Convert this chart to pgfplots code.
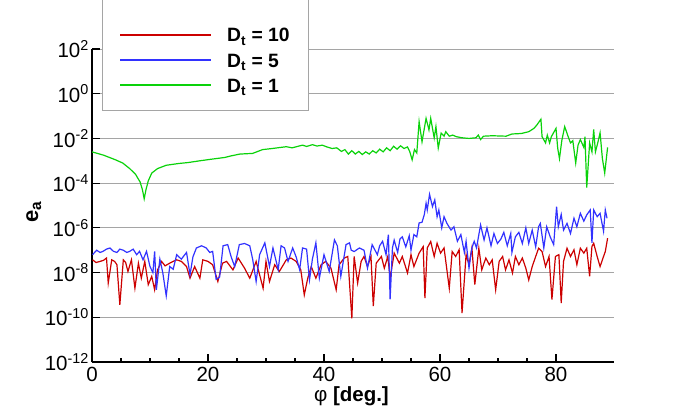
\documentclass[border=0pt]{standalone}
\usepackage{fontspec}
\setmainfont{Liberation Sans}
\usepackage{pgfplots}
\pgfplotsset{compat=1.18}
\definecolor{cred}{RGB}{204,0,0}
\definecolor{cblue}{RGB}{50,50,255}
\definecolor{cgreen}{RGB}{10,210,10}
\definecolor{cgrid}{RGB}{165,165,165}
\begin{document}
\begin{tikzpicture}
\useasboundingbox (0,0) rectangle (699pt,408pt);
\begin{axis}[
  at={(92pt,46pt)}, anchor=south west,
  scale only axis, width=522pt, height=313pt,
  xmin=0, xmax=90, ymin=1e-12, ymax=1e2, ymode=log,
  axis x line*=bottom, axis y line*=left,
  axis line style={line width=1.5pt,-},
  tick align=inside, xtick pos=bottom, ytick pos=left,
  major tick length=8pt, minor tick length=4pt,
  tick style={line width=1.2pt, black},
  xtick={0,20,40,60,80}, xticklabels={0,20,40,60,80},
  minor x tick num=3,
  ytick={1e-12,1e-10,1e-8,1e-6,1e-4,1e-2,1,1e2},
  yticklabels={10\textsuperscript{-12},10\textsuperscript{-10},10\textsuperscript{-8},10\textsuperscript{-6},10\textsuperscript{-4},10\textsuperscript{-2},10\textsuperscript{0},10\textsuperscript{2}},
  yminorticks=false,
  ymajorgrids, major grid style={cgrid, line width=1pt},
  tick label style={font=\fontsize{20.5}{23}\selectfont, inner sep=0pt},
  xticklabel style={anchor=north, yshift=-5pt},
  yticklabel style={anchor=east, xshift=-3pt},
  xlabel={φ {\bfseries [deg.]}},
  ylabel={\bfseries e\textsubscript{\bfseries a}},
  every axis x label/.style={at={(axis description cs:0.497,0)}, anchor=base, yshift=-39pt, inner sep=0pt, font=\fontsize{20.5}{23}\selectfont},
  every axis y label/.style={at={(axis description cs:-0.1034,0.479)}, rotate=90, anchor=base, font=\fontsize{22}{25}\selectfont},
  clip=true,
]
\addplot[cred, line width=1.2pt] coordinates {
(0.1,3.72e-8) (0.7,2.82e-8) (1.4,3.16e-8) (2.0,3.55e-8) (2.5,4.47e-8) (2.8,3.39e-9) (3.4,3.72e-8) (3.9,3.16e-8) (4.3,2.24e-8) (4.8,3.63e-10)
(5.4,3.72e-8) (5.8,2.82e-8) (6.2,1.12e-8) (6.8,3.72e-8) (7.4,2.0e-9) (8.0,2.63e-8) (8.5,5.62e-9) (9.1,3.16e-8) (9.7,2.88e-9) (10.3,6.76e-9)
(10.8,1.7e-9) (11.3,1.32e-8) (12.0,3.16e-8) (12.6,2.0e-8) (13.4,2.63e-8) (14.0,3.16e-8) (14.6,3.72e-8) (15.4,3.16e-8) (16.3,1.86e-8) (16.9,5.62e-9)
(17.7,1.86e-8) (18.6,5.62e-9) (19.1,3.72e-8) (20.0,3.16e-8) (20.8,2.24e-8) (21.7,3.98e-9) (22.5,2.63e-8) (23.2,3.16e-8) (24.3,1.32e-8) (25.2,4.47e-8)
(26.3,1.58e-8) (27.2,5.62e-9) (28.3,3.16e-8) (29.5,2.0e-9) (30.0,3.16e-8) (30.6,3.98e-9) (31.5,2.24e-8) (32.3,1.12e-8) (33.5,3.72e-8) (34.3,4.47e-8)
(35.2,3.16e-8) (36.0,1.32e-8) (36.6,1e-9) (37.2,5.62e-9) (37.8,1.86e-8) (38.6,5.62e-9) (39.5,2.24e-8) (40.3,3.16e-8) (41.2,1.58e-8) (42.1,1.7e-9)
(42.6,2.24e-8) (43.5,4.47e-8) (44.1,5.25e-8) (44.8,8.91e-11) (45.2,5.25e-8) (45.8,3.39e-9) (46.4,3.16e-8) (46.9,5.25e-8) (47.5,1.86e-8) (48.1,5.25e-8)
(48.5,3.16e-10) (49.0,2.63e-8) (49.9,5.25e-8) (50.4,1.58e-8) (51.0,5.25e-8) (51.4,5.62e-9) (52.1,7.41e-8) (53.0,2.63e-8) (53.5,5.25e-8) (54.4,9.55e-9)
(55.0,6.31e-8) (55.5,1.86e-8) (56.4,7.41e-8) (57.1,1.45e-7) (57.4,7.24e-10) (57.8,1.26e-7) (58.4,2.45e-7) (59.0,5.25e-8) (59.5,2.04e-7) (60.1,7.41e-8)
(60.7,1.26e-7) (61.6,2.0e-9) (62.1,8.71e-8) (62.7,5.25e-8) (63.3,1.05e-7) (63.8,1.55e-10) (64.5,6.31e-8) (65.0,2.24e-8) (65.5,1.26e-7) (66.0,2.88e-9)
(66.7,1.23e-7) (67.2,1.32e-8) (67.9,4.47e-8) (68.5,2.24e-8) (69.0,3.72e-8) (69.6,1.7e-9) (70.2,3.16e-8) (70.8,5.25e-8) (71.3,1.32e-8) (71.9,3.72e-8)
(72.5,9.55e-9) (73.0,5.25e-8) (73.6,2.24e-8) (74.2,4.47e-8) (74.8,1.58e-8) (75.3,4.68e-9) (75.9,1.86e-8) (76.5,5.25e-8) (77.0,1.23e-7) (77.6,8.71e-8)
(78.2,1.86e-8) (78.8,5.25e-8) (79.3,6.17e-10) (79.9,5.25e-8) (80.5,6.31e-8) (80.9,4.37e-10) (81.3,3.16e-8) (81.9,1.23e-7) (82.5,5.25e-8) (83.1,1.05e-7)
(83.6,2.24e-8) (84.2,1.23e-7) (84.8,7.41e-8) (85.3,1.23e-7) (85.8,6.76e-9) (86.2,1.48e-7) (86.5,2.04e-7) (87.1,5.25e-8) (87.6,1.86e-8) (88.2,5.25e-8)
(88.5,8.71e-8) (88.9,3.47e-7)
};
\addplot[cblue, line width=1.2pt] coordinates {
(0.1,6.31e-8) (0.8,1e-7) (1.4,7.94e-8) (1.9,8.91e-8) (2.5,1.12e-7) (3.1,1.26e-7) (3.7,8.91e-8) (4.3,7.94e-8) (4.8,1.12e-7) (5.4,1e-7)
(6.0,7.94e-8) (6.5,8.91e-8) (7.1,1.12e-7) (7.7,6.31e-8) (8.2,8.91e-8) (8.8,3.72e-8) (9.4,8.91e-8) (10,1.86e-8) (10.5,1e-8) (10.8,8.91e-8)
(11.1,1.7e-9) (11.7,3.98e-8) (12.2,1e-8) (12.8,9.12e-10) (13.4,1.86e-8) (14.0,1.41e-8) (14.6,6.31e-8) (15.4,3.98e-8) (16.3,7.94e-8) (16.9,7.94e-9)
(17.4,5.01e-8) (18.0,1.26e-7) (18.9,1.58e-7) (19.7,1.26e-7) (20.3,7.94e-8) (20.8,8.91e-8) (21.4,5.01e-9) (22.0,6.31e-9) (22.6,1.58e-7) (23.4,1.78e-7)
(24.0,5.01e-8) (24.6,1.86e-8) (25.4,1.78e-7) (26.3,2.0e-7) (27.2,1.58e-7) (27.7,3.98e-8) (28.3,3.98e-9) (28.9,6.31e-8) (29.8,2.14e-7) (30.6,1.86e-8)
(31.2,1.26e-7) (32.1,1.35e-8) (32.6,1.58e-7) (33.2,1.26e-7) (33.8,3.16e-8) (34.6,1.26e-7) (35.2,5.01e-8) (35.8,1.35e-8) (36.3,1.26e-7) (37.0,1.12e-7)
(37.5,4.68e-9) (38.0,3.98e-8) (38.6,2.14e-7) (39.2,5.62e-9) (40.0,6.31e-8) (40.9,1.12e-8) (41.8,2.88e-7) (42.3,1.58e-7) (42.9,6.76e-9) (43.8,1.78e-7)
(44.4,2.14e-7) (44.7,1e-7) (45.2,8.71e-8) (46.1,1.26e-7) (46.9,1e-7) (47.5,1.58e-8) (48.3,1.78e-7) (49.2,6.31e-8) (49.6,1.58e-7) (50.1,2.51e-7)
(50.7,6.31e-8) (51.1,5.01e-7) (51.4,6.31e-10) (51.8,1.26e-7) (52.1,2.82e-7) (52.7,7.94e-8) (53.1,3.16e-7) (53.5,3.98e-7) (54.1,1.41e-7) (54.7,4.47e-7)
(55.0,1e-7) (55.5,5.01e-7) (56.0,3.98e-7) (56.4,1.66e-6) (56.9,1.78e-6) (57.3,3.98e-6) (57.6,1.26e-5) (57.8,6.31e-6) (58.2,3.16e-5) (58.7,8.91e-6)
(59.1,1.78e-5) (59.5,3.16e-6) (59.8,6.31e-6) (60.3,1e-6) (60.7,3.16e-6) (61.2,1.58e-6) (61.9,7.94e-7) (62.4,1.12e-6) (63.0,2.51e-7) (63.6,5.01e-7)
(64.2,7.94e-8) (64.5,2.51e-7) (65.0,1.58e-8) (65.5,1.26e-7) (65.9,2.51e-7) (66.3,1.26e-7) (66.7,5.01e-7) (67.0,1.35e-6) (67.6,2.88e-7) (68.1,1e-6)
(68.8,1.58e-7) (69.3,5.62e-7) (69.9,2.0e-7) (70.5,3.16e-7) (71.0,6.31e-7) (71.6,1.58e-7) (72.2,5.62e-7) (72.4,7.94e-8) (73.0,3.98e-7) (73.6,6.31e-7)
(74.2,2.0e-7) (74.8,1e-6) (75.3,2.0e-7) (75.9,7.94e-7) (76.5,1.41e-7) (77.0,1.12e-6) (77.3,1.58e-6) (77.9,1.26e-7) (78.4,1.12e-6) (79.0,3.98e-7)
(79.6,1.78e-7) (80.1,8.91e-6) (80.4,1.12e-6) (80.9,3.98e-6) (81.3,7.94e-7) (81.9,1.58e-6) (82.5,5.62e-7) (83.1,2.69e-6) (83.6,1.12e-6) (84.2,4.47e-6)
(84.8,2.0e-6) (85.3,3.8e-6) (85.9,6.31e-6) (86.2,2.14e-7) (86.5,6.31e-6) (87.1,3.16e-6) (87.6,4.47e-6) (88.2,7.08e-7) (88.5,6.31e-6) (88.8,2.69e-6)
};
\addplot[cgreen, line width=1.2pt] coordinates {
(0,2.51e-3) (2,1.78e-3) (4,1.12e-3) (5.3,7.94e-4) (6.5,4.47e-4) (7.5,2.51e-4) (8.3,1.12e-4) (8.7,5.01e-5) (9.0,2.0e-5) (9.3,5.01e-5)
(9.7,1.26e-4) (10.3,2.82e-4) (11.3,4.47e-4) (12.8,6.31e-4) (15,7.6e-4) (16.5,8.3e-4) (18.6,1e-3) (20.5,1.17e-3) (22.9,1.41e-3) (24,1.66e-3)
(25.5,2.0e-3) (27.7,2.14e-3) (29.4,3.16e-3) (31.1,3.55e-3) (33.5,4.27e-3) (34.5,3.8e-3) (36.3,5.01e-3) (37,4.37e-3) (38,5.25e-3) (38.8,4.57e-3)
(39.7,5.01e-3) (40.5,4.17e-3) (41.4,3.55e-3) (42.2,3.8e-3) (43.0,2.63e-3) (43.6,3.16e-3) (44.2,2.0e-3) (44.8,2.82e-3) (45.4,2.0e-3) (46.0,2.63e-3)
(46.6,1.91e-3) (47.2,2.51e-3) (47.8,2.0e-3) (48.4,2.82e-3) (49,2.24e-3) (49.6,3.31e-3) (50.2,2.51e-3) (50.8,3.8e-3) (51.4,2.82e-3) (52.0,4.47e-3)
(52.6,3.31e-3) (53.2,4.68e-3) (53.8,3.55e-3) (54.4,4.17e-3) (54.8,2.51e-3) (55.2,1.1e-3) (55.6,3.16e-3) (56.0,2.24e-3) (56.4,5.62e-2) (56.9,7.08e-3)
(57.6,7.94e-2) (58.1,2.4e-2) (58.4,7.94e-2) (59.0,1.05e-2) (59.3,3.39e-2) (59.7,3.72e-3) (60.2,1.74e-2) (60.7,1.26e-2) (61.0,2.0e-2) (61.6,1.26e-2)
(62.2,1.41e-2) (62.8,1.2e-2) (63.8,1.07e-2) (65,1.0e-2) (66.2,1.07e-2) (66.6,1.41e-2) (67,8.91e-3) (67.5,1.26e-2) (69,1.32e-2) (71.4,1.26e-2)
(72.4,1.58e-2) (74,1.66e-2) (75.3,2.0e-2) (76.2,2.82e-2) (76.7,3.98e-2) (77.4,7.24e-2) (77.6,1.2e-2) (78.2,6.31e-3) (78.5,1.41e-2) (78.9,6.31e-3)
(79.2,1.2e-2) (80.0,2.82e-2) (80.3,3.55e-3) (80.6,1.26e-3) (81.0,7.94e-3) (81.5,3.39e-2) (82.1,1.2e-2) (82.5,6.31e-3) (82.9,7.94e-3) (83.4,7.94e-4)
(83.8,5.01e-3) (84.2,8.91e-3) (84.8,3.98e-3) (85.0,1.2e-2) (85.3,6.31e-5) (85.8,6.31e-3) (86.2,2.51e-3) (86.5,2.51e-2) (86.8,2.51e-3) (87.2,6.31e-3)
(87.6,1.78e-2) (88.0,1.26e-3) (88.4,2.82e-4) (88.9,3.98e-3)
};
\end{axis}
% legend
\draw[cgrid, line width=1pt, fill=white] (102pt,298pt) rectangle (308pt,412pt);
\draw[cred, line width=1.2pt] (120pt,373pt) -- (211pt,373pt);
\draw[cblue, line width=1.2pt] (120pt,348pt) -- (211pt,348pt);
\draw[cgreen, line width=1.2pt] (120pt,323pt) -- (211pt,323pt);
\begin{scope}[every node/.style={anchor=base west, inner sep=0pt, font=\bfseries\fontsize{19.3}{22}\selectfont}]
\node at (227pt,366pt) {D\textsubscript{\bfseries t} = 10};
\node at (227pt,341pt) {D\textsubscript{\bfseries t} = 5};
\node at (227pt,316pt) {D\textsubscript{\bfseries t} = 1};
\end{scope}
\end{tikzpicture}
\end{document}
